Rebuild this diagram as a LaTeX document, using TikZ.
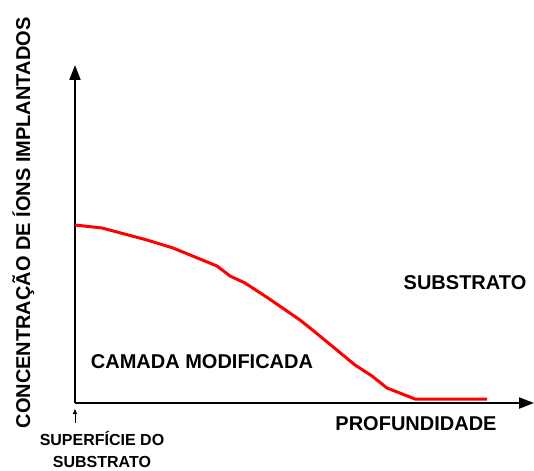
\documentclass[tikz,border=0pt]{standalone}
\usepackage{fontspec}
\setmainfont{Liberation Sans}
\usetikzlibrary{arrows.meta}
\begin{document}
\begin{tikzpicture}[x=1pt,y=-1pt,
  big/.style={font=\fontsize{20}{24}\selectfont\bfseries, inner sep=0pt, anchor=base},
  small/.style={font=\fontsize{16}{19}\selectfont\bfseries, inner sep=0pt, anchor=base},
  axis/.style={line width=2pt, -{Triangle[length=15pt,width=11pt]}},
  profile/.style={red, line width=3pt, line join=round}]
\useasboundingbox (0,0) rectangle (534,470);
\coordinate (O) at (75,403);
\coordinate (ytip) at (75,65);
\coordinate (xtip) at (534,403);
\draw[axis] (O) -- (ytip);
\draw[axis] (O) -- (xtip);
\coordinate (s0) at (75,423);
\coordinate (s1) at (75,409);
\draw[line width=0.8pt, -{Triangle[length=5pt,width=4pt]}] (s0) -- (s1);
\draw[profile] (75,225) -- (102,228) -- (147,240) -- (173,248) -- (217,266) -- (230,276) -- (245,283) -- (268,298) -- (300,320) -- (315,332) -- (355,365) -- (372,376) -- (387,388) -- (415,399) -- (487,399);
\node[big] (sub) at (465,289) {SUBSTRATO};
\node[big] (cam) at (202,368) {CAMADA MODIFICADA};
\node[big] (prof) at (416,430) {PROFUNDIDADE};
\node[small] (sup1) at (102,445) {SUPERFÍCIE DO};
\node[small] (sup2) at (102,467) {SUBSTRATO};
\node[big, rotate=90] (conc) at (30,223) {CONCENTRAÇÃO DE ÍONS IMPLANTADOS};
\end{tikzpicture}
\end{document}
